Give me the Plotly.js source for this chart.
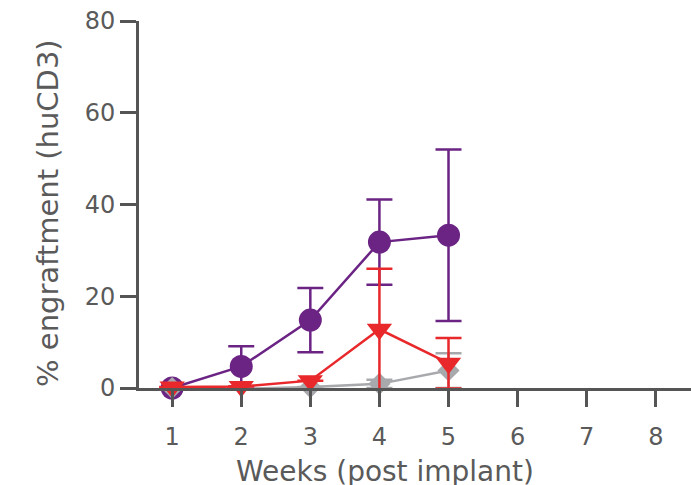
<!DOCTYPE html>
<html>
<head>
<meta charset="utf-8">
<script src="https://cdn.plot.ly/plotly-3.0.1.min.js"></script>
<style>html,body{margin:0;padding:0;background:#fff;}#chart{width:691px;height:485px;}</style>
</head>
<body>
<div id="chart"></div>
<script>
const weeks = [1, 2, 3, 4, 5];
const purpleVals = [0, 4.7, 14.8, 31.8, 33.3];
const purpleErr = [0, 4.4, 7.0, 9.3, 18.7];
const grayVals = [0, -0.2, 0.2, 0.9, 3.8];
const grayErr = [0, 0, 0, 0.9, 3.8];
const redVals = [0.2, 0.3, 1.6, 12.8, 5.4];
const redErr = [0, 0, 0, 13.2, 5.5];
const xTicks = [1, 2, 3, 4, 5, 6, 7, 8];
const yTicks = [0, 20, 40, 60, 80];
const xTitle = 'Weeks (post implant)';
const yTitle = '% engraftment (huCD3)';

const PURPLE = '#6b2384', GRAY = '#a7a9ac', RED = '#e8282b', AX = '#555555', TXT = '#5a5a5a';
const FONT = 'DejaVu Sans, sans-serif';

function series(y, err, color, symbol, size) {
  return {
    x: weeks, y: y, type: 'scatter', mode: 'lines+markers', cliponaxis: false,
    line: {color: color, width: 2.5},
    marker: {color: color, symbol: symbol, size: size},
    error_y: {type: 'data', array: err, visible: true, color: color, thickness: 2.5, width: 13}
  };
}

const data = [
  series(purpleVals, purpleErr, PURPLE, 'circle', 23),
  series(grayVals, grayErr, GRAY, 'diamond', 17),
  series(redVals, redErr, RED, 'triangle-down', 22)
];

const layout = {
  width: 691, height: 485,
  margin: {l: 139, r: 0, t: 21, b: 97},
  paper_bgcolor: '#fff', plot_bgcolor: '#fff',
  showlegend: false,
  font: {family: FONT, color: TXT, size: 24},
  xaxis: {
    range: [0.52, 8.51], tickvals: xTicks, ticktext: xTicks.map(String),
    showgrid: false, zeroline: false, showline: true, linecolor: AX, linewidth: 3,
    ticks: 'outside', ticklen: 16, tickwidth: 3, tickcolor: AX,
    ticklabelstandoff: 9,
    tickfont: {family: FONT, size: 24, color: TXT}
  },
  yaxis: {
    range: [0, 80], tickvals: yTicks, ticktext: yTicks.map(String),
    showgrid: false, zeroline: false, showline: true, linecolor: AX, linewidth: 3,
    ticks: 'outside', ticklen: 16, tickwidth: 3, tickcolor: AX,
    ticklabelstandoff: 0,
    tickfont: {family: FONT, size: 24, color: TXT}
  },
  annotations: [
    {text: xTitle, xref: 'paper', yref: 'paper', x: 0.4457, y: -0.2262,
     xanchor: 'center', yanchor: 'middle', showarrow: false,
     font: {family: FONT, size: 28, color: TXT}},
    {text: yTitle, xref: 'paper', yref: 'paper', x: -0.1649, y: 0.4768, textangle: -90,
     xanchor: 'center', yanchor: 'middle', showarrow: false,
     font: {family: FONT, size: 29, color: TXT}}
  ]
};

Plotly.newPlot('chart', data, layout, {displayModeBar: false, staticPlot: true});
</script>
</body>
</html>
